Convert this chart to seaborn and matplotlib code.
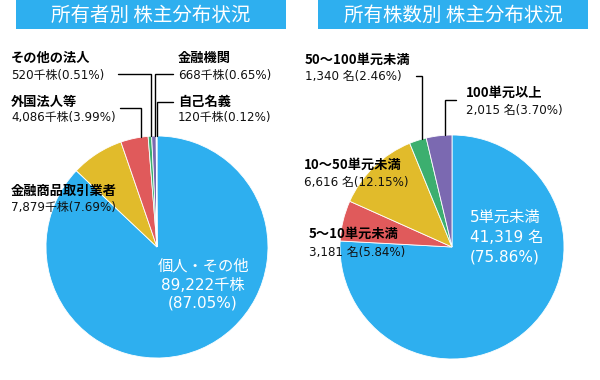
import numpy as np
import matplotlib
matplotlib.use('Agg')
import matplotlib.pyplot as plt
import seaborn as sns

# data
owner_labels = ['個人・その他', '金融商品取引業者', '外国法人等', 'その他の法人', '金融機関', '自己名義']
owner_shares = [89222, 7879, 4086, 520, 668, 120]
owner_pcts = [87.05, 7.69, 3.99, 0.51, 0.65, 0.12]

size_labels = ['5単元未満', '5～10単元未満', '10～50単元未満', '50～100単元未満', '100単元以上']
size_counts = [41319, 3181, 6616, 1340, 2015]
size_pcts = [75.86, 5.84, 12.15, 2.46, 3.70]

titles = ['所有者別 株主分布状況', '所有株数別 株主分布状況']

sns.set_theme(style='white')
plt.rcParams['font.family'] = ['Noto Sans CJK JP', 'DejaVu Sans']
NUM_FONT = ['DejaVu Sans', 'Noto Sans CJK JP']  # wider digits, CJK falls through

blue, yellow, red, green, purple = '#2EAFEF', '#E1BB2B', '#E05A5B', '#3CAF6F', '#7B69B1'
owner_colors = [blue, yellow, red, green, purple, '#E4E0F2']
size_colors = [blue, red, yellow, green, purple]

W, H = 600, 380
fig = plt.figure(figsize=(6, 3.8), dpi=100)
ax = fig.add_axes([0, 0, 1, 1])


def Y(y):
    # pixel row (from top) -> axis coordinate
    return H - y


def pie(values, colors, cx, cy, r, frac=0.75):
    ax.pie(values, colors=colors, startangle=90, counterclock=False,
           center=(cx, Y(cy)), radius=r, frame=True,
           wedgeprops=dict(edgecolor='white', linewidth=0.6))
    total = sum(values)
    edge = []
    cum = 0
    for v in values:
        pos = (cum + v * frac) / total
        ang = np.pi / 2 - 2 * np.pi * pos
        edge.append((cx + r * np.cos(ang), Y(cy) + r * np.sin(ang)))
        cum += v
    return edge


def leader(pt, ly, x_end):
    x, y = pt
    ax.plot([x, x, x_end], [y, Y(ly), Y(ly)], color='black', lw=1.0,
            solid_joinstyle='miter', zorder=5)


def label(x, y, name, val):
    ax.text(x, Y(y[0]), name, fontsize=9.5, fontweight='bold', color='black',
            ha='left', va='center')
    ax.text(x, Y(y[1]), val, fontsize=8.6, color='#111111', ha='left', va='center',
            family=NUM_FONT)


def inner(x, ys, lines, ha):
    for yy, t in zip(ys, lines):
        ax.text(x, Y(yy), t, fontsize=11, color='white', ha=ha, va='center',
                family=NUM_FONT)


# title bars
for x0, t in zip([16, 318], titles):
    ax.add_patch(plt.Rectangle((x0, Y(29)), 270, 29, color=blue, lw=0))
    ax.text(x0 + 135, Y(15), t, fontsize=14, color='white', ha='center', va='center')

# left pie
edge = pie(owner_shares, owner_colors, 157, 247, 111)
ov = [f'{s:,}千株({p:.2f}%)' for s, p in zip(owner_shares, owner_pcts)]

inner(203, (266, 285, 303),
      [owner_labels[0], f'{owner_shares[0]:,}千株', f'({owner_pcts[0]:.2f}%)'], 'center')

label(11, (191, 208), owner_labels[1], ov[1])
label(11, (102, 118), owner_labels[2], ov[2])
label(11, (58, 75), owner_labels[3], ov[3])
label(178, (58, 75), owner_labels[4], ov[4])
label(178, (102, 118), owner_labels[5], ov[5])

leader(edge[2], 108, 120)
leader(edge[3], 74, 118)
leader(edge[4], 74, 173)
leader(edge[5], 102, 173)

# right pie
edge = pie(size_counts, size_colors, 452, 247, 112)
sv = [f'{c:,} 名({p:.2f}%)' for c, p in zip(size_counts, size_pcts)]

inner(470, (217, 238, 257),
      [size_labels[0], f'{size_counts[0]:,} 名', f'({size_pcts[0]:.2f}%)'], 'left')

label(309, (234, 252), size_labels[1], sv[1])
label(304, (165, 182), size_labels[2], sv[2])
label(305, (60, 76), size_labels[3], sv[3])
label(466, (93, 110), size_labels[4], sv[4])

leader(edge[3], 76, 416)
leader(edge[4], 100, 456)

ax.set_xlim(0, W)
ax.set_ylim(0, H)
ax.set_aspect('auto')
ax.axis('off')

plt.savefig('out.png', dpi=100)
